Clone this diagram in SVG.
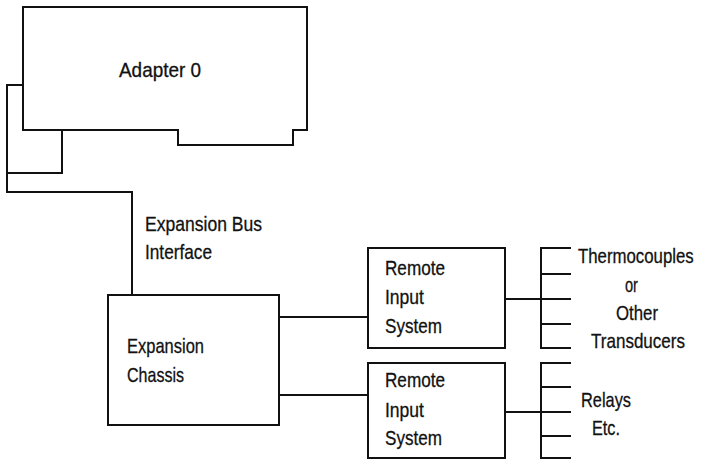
<svg xmlns="http://www.w3.org/2000/svg" width="709" height="459" viewBox="0 0 709 459">
<style>
.ln{fill:none;stroke:#111;stroke-width:2;stroke-linejoin:miter;stroke-linecap:square}
.bx{fill:#fff;stroke:#111;stroke-width:2}
.t{font-family:"Liberation Sans",Arial,sans-serif;font-size:21px;fill:#111;stroke:#111;stroke-width:0.3}
</style>
<rect width="709" height="459" fill="#fff"/>
<g id="connectors">
<path class="ln" d="M23,85 H7 V173 H62 V130"/>
<path class="ln" d="M7,173 V192 H132 V295"/>
<path class="ln" d="M279,317 H368"/>
<path class="ln" d="M279,395 H368"/>
<path class="ln" d="M505,299 H541"/>
<path class="ln" d="M505,412 H541"/>
<path class="ln" d="M570,248 H541 V348 H570 M541,274 H570 M541,299 H570 M541,324 H570"/>
<path class="ln" d="M570,363 H541 V458 H570 M541,387 H570 M541,412 H570 M541,436 H570"/>
</g>
<g id="adapter0">
<path class="bx" d="M23,7 H307 V130 H293 V145 H178 V130 H23 Z"/>
<text class="t" x="119" y="77" font-size="23" textLength="82" lengthAdjust="spacingAndGlyphs">Adapter 0</text>
</g>
<g id="bus-label">
<text class="t" x="145" y="231" textLength="117" lengthAdjust="spacingAndGlyphs">Expansion Bus</text>
<text class="t" x="145" y="259" textLength="67" lengthAdjust="spacingAndGlyphs">Interface</text>
</g>
<g id="chassis">
<rect class="bx" x="108" y="295" width="171" height="130"/>
<text class="t" x="127" y="353" textLength="77" lengthAdjust="spacingAndGlyphs">Expansion</text>
<text class="t" x="127" y="382" textLength="57" lengthAdjust="spacingAndGlyphs">Chassis</text>
</g>
<g id="remote1">
<rect class="bx" x="368" y="248" width="137" height="100"/>
<text class="t" x="385" y="275" textLength="60" lengthAdjust="spacingAndGlyphs">Remote</text>
<text class="t" x="385" y="304" textLength="39" lengthAdjust="spacingAndGlyphs">Input</text>
<text class="t" x="385" y="333" textLength="57" lengthAdjust="spacingAndGlyphs">System</text>
</g>
<g id="remote2">
<rect class="bx" x="368" y="363" width="137" height="95"/>
<text class="t" x="385" y="387" textLength="60" lengthAdjust="spacingAndGlyphs">Remote</text>
<text class="t" x="385" y="417" textLength="39" lengthAdjust="spacingAndGlyphs">Input</text>
<text class="t" x="385" y="445" textLength="57" lengthAdjust="spacingAndGlyphs">System</text>
</g>
<g id="transducers">
<text class="t" transform="translate(578,263) scale(0.8,1)" x="0" y="0">Thermocouples</text>
<text class="t" x="625" y="292" textLength="13" lengthAdjust="spacingAndGlyphs">or</text>
<text class="t" x="616" y="320" textLength="42" lengthAdjust="spacingAndGlyphs">Other</text>
<text class="t" x="591" y="348" textLength="94" lengthAdjust="spacingAndGlyphs">Transducers</text>
</g>
<g id="relays">
<text class="t" x="581" y="407" textLength="50" lengthAdjust="spacingAndGlyphs">Relays</text>
<text class="t" x="592" y="435" textLength="28" lengthAdjust="spacingAndGlyphs">Etc.</text>
</g>
</svg>
